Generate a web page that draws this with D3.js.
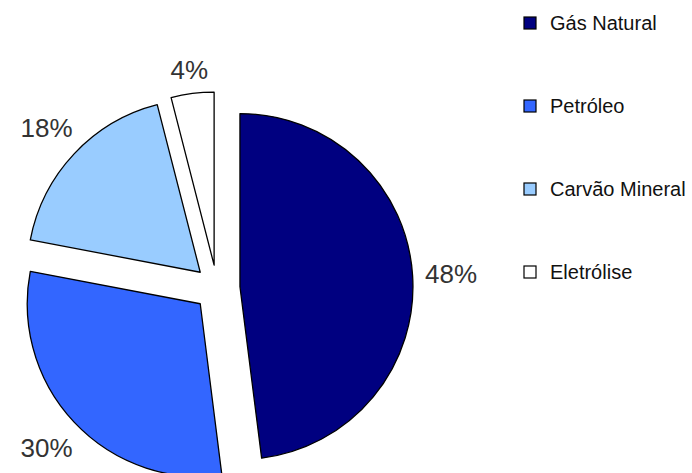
<html>
    <head>
        <meta charset="utf-8">
        <title>Fontes de hidrogênio</title>
        <style>
            body { margin: 0; background: #fff; }
        </style>
    </head>

    <body>
        <script src="https://d3js.org/d3.v7.min.js"></script>
        <script>
            var categories = ['Gás Natural', 'Petróleo', 'Carvão Mineral', 'Eletrólise'];
            var values = [48, 30, 18, 4];
            var colors = ['#000080', '#3366ff', '#99ccff', '#ffffff'];

            var width = 692, height = 473;
            var cx = 217, cy = 288;
            var radius = 173;
            var explode = 23;

            var svg = d3.select('body')
            .append('svg')
            .attr('width', width)
            .attr('height', height);

            var pie = d3.pie().sort(null).value(function(d) { return d; });
            var arc = d3.arc().innerRadius(0).outerRadius(radius);
            var arcs = pie(values);

            function mid(d) { return (d.startAngle + d.endAngle) / 2; }

            var slices = svg.append('g')
            .attr('transform', 'translate(' + cx + ',' + cy + ')');

            slices.selectAll('path')
            .data(arcs)
            .enter()
            .append('path')
            .attr('d', arc)
            .attr('transform', function(d) {
                var a = mid(d);
                return 'translate(' + (explode * Math.sin(a)) + ',' + (-explode * Math.cos(a)) + ')';
            })
            .style('fill', function(d, i) { return colors[i]; })
            .style('stroke', '#000')
            .style('stroke-width', 1.3)
            .style('stroke-linejoin', 'round');

            // percentage labels just outside each slice
            var labels = slices.selectAll('text')
            .data(arcs)
            .enter()
            .append('text')
            .attr('text-anchor', 'middle')
            .attr('dy', '0.36em')
            .style('font-family', 'Liberation Sans, Arial, sans-serif')
            .style('font-size', '26px')
            .style('fill', '#333')
            .text(function(d) { return d.value + '%'; });

            labels.each(function(d) {
                var a = mid(d);
                var ux = Math.sin(a), uy = -Math.cos(a);
                var w = this.getComputedTextLength(), h = 20;
                var dist = radius + 12 + Math.abs(ux) * w / 2 + Math.abs(uy) * h / 2;
                var ox = explode * ux, oy = explode * uy;
                d3.select(this)
                .attr('x', ox + dist * ux)
                .attr('y', oy + dist * uy);
            });

            // legend
            var legend = svg.append('g');
            var rows = legend.selectAll('g')
            .data(categories)
            .enter()
            .append('g')
            .attr('transform', function(d, i) {
                return 'translate(524,' + (23 + i * 83) + ')';
            });

            rows.append('rect')
            .attr('x', 0)
            .attr('y', -6)
            .attr('width', 12)
            .attr('height', 12)
            .style('fill', function(d, i) { return colors[i]; })
            .style('stroke', '#000')
            .style('stroke-width', 1.2);

            rows.append('text')
            .attr('x', 26)
            .attr('y', 0)
            .attr('dy', '0.36em')
            .style('font-family', 'Liberation Sans, Arial, sans-serif')
            .style('font-size', '20px')
            .style('fill', '#111')
            .text(function(d) { return d; });
        </script>
    </body>
</html>
